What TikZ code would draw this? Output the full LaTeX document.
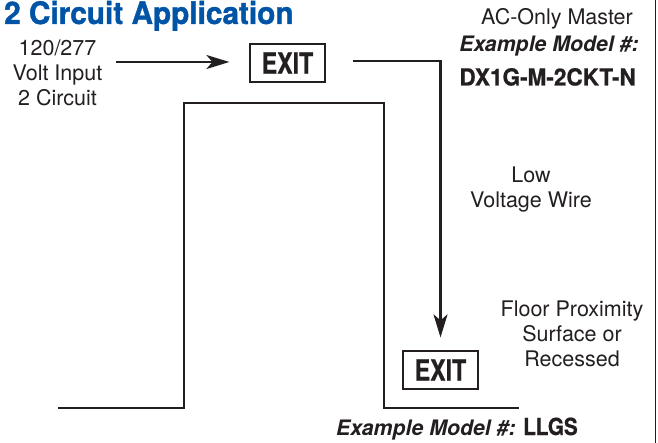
\documentclass[tikz,border=0pt]{standalone}
\usepackage{fontspec}
\usetikzlibrary{arrows.meta}
\setmainfont{TeX Gyre Heros}
\newfontfamily\titlefont[FakeStretch=0.96,FakeBold=1.2,BoldFont={* Bold}]{TeX Gyre Heros}
\newfontfamily\condfont[FakeStretch=0.96,FakeBold=0.7,BoldFont={* Bold}]{TeX Gyre Heros}
\newfontfamily\shortfont[FakeStretch=0.88,FakeBold=0.7,BoldFont={* Bold}]{TeX Gyre Heros}
\newfontfamily\signfont[FakeStretch=0.8,FakeBold=0.6,BoldFont={* Bold}]{TeX Gyre Heros}
\definecolor{inkblack}{RGB}{35,31,32}
\definecolor{titleblue}{RGB}{0,84,166}
\tikzset{
	wire/.style = {line width = 2.4pt, draw = inkblack},
	feed/.style = {wire, -{Stealth[length = 23pt, width = 14pt, inset = 6pt]}},
	exitbox/.style = {draw = inkblack, line width = 1.2pt, minimum width = 75pt, minimum height = 38pt, inner sep = 0pt, text = inkblack, font = \signfont\bfseries\fontsize{29}{29}\selectfont},
	note/.style = {align = center, inner sep = 0pt, text = inkblack, font = \fontsize{21.5}{25}\selectfont},
	model/.style = {inner sep = 0pt, text = inkblack, font = \bfseries\itshape\fontsize{21.3}{22}\selectfont},
	code/.style = {inner sep = 0pt, text = inkblack, font = \condfont\bfseries\fontsize{23.5}{24}\selectfont}
}
\begin{document}
\begin{tikzpicture}[x = 1pt, y = -1pt]
	\useasboundingbox (0, 0) rectangle (658, 443);
	
	% title
	\node [anchor = base west, inner sep = 0pt, text = titleblue, font = \titlefont\bfseries\fontsize{31}{31}\selectfont] (title) at (4, 24) {2 Circuit Application};
	
	% right edge
	\draw [line width = 1.2pt, draw = inkblack] (655.5, 0) -- (655.5, 443);
	
	% building
	\draw [wire] (58, 408) -- (184, 408) -- (184, 103) -- (384, 103) -- (384, 408) -- (519, 408);
	
	% signs
	\node [exitbox] (exita) at (287.5, 63) {EXIT};
	\node [exitbox] (exitb) at (440.5, 370) {EXIT};
	
	% lines
	\coordinate (inputend) at (116, 62);
	\coordinate (wirestart) at (353, 61);
	\draw [feed, shorten > = 20pt] (inputend) -- (exita.west |- inputend);
	\draw [feed, shorten > = 13pt] (wirestart) -| (exitb.north);
	
	% labels
	\node [note] (input) at (57.5, 73) {120/277\\Volt Input\\2 Circuit};
	\node [note] (master) at (557, 19) {AC-Only Master};
	\node [model, anchor = base east] (modela) at (639, 52) {Example Model \#:};
	\node [code, anchor = base east] (codea) at (636, 85.5) {DX1G-M-2CKT-N};
	\node [note] (lowvolt) at (531, 190) {Low\\Voltage Wire};
	\node [note] (floor) at (572, 334) {Floor Proximity\\Surface or\\Recessed};
	\node [model, anchor = base west] (modelb) at (336, 435) {Example Model \#:};
	\node [code, anchor = base west, font = \shortfont\bfseries\fontsize{23.5}{24}\selectfont] (codeb) at (523, 435) {LLGS};
\end{tikzpicture}
\end{document}
